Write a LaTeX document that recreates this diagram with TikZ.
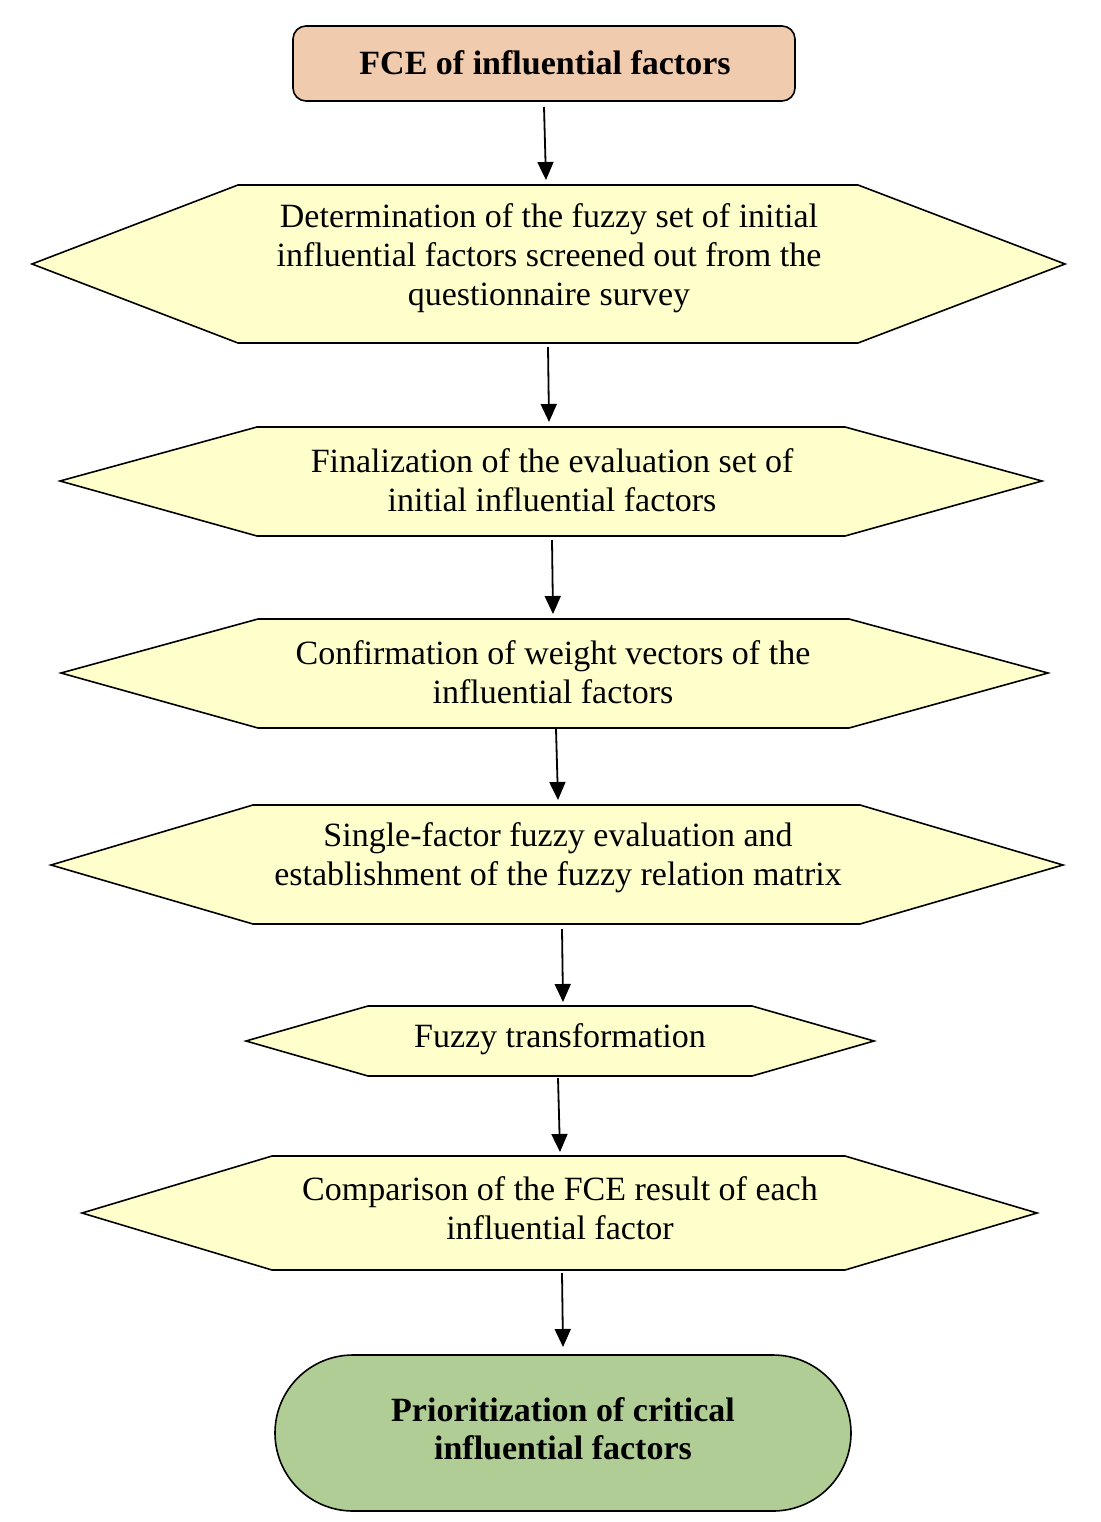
\documentclass[tikz,border=0pt]{standalone}
\usepackage{fontspec}
\setmainfont{Liberation Serif}
\usetikzlibrary{arrows.meta}
\definecolor{peach}{HTML}{F1CBAE}
\definecolor{paleyellow}{HTML}{FFFFCC}
\definecolor{sage}{HTML}{B0CD95}
\begin{document}
\begin{tikzpicture}[x=1pt,y=-1pt,
  hexbox/.style={draw=black,line width=1.6pt,fill=paleyellow,line join=miter},
  lbl/.style={align=center,inner sep=0pt,font=\fontsize{34}{39}\selectfont},
  boldlbl/.style={align=center,inner sep=0pt,font=\fontsize{34}{38}\selectfont\bfseries},
  flow/.style={line width=1.8pt,-{Triangle[length=18pt,width=16pt]}}]
\useasboundingbox (0,0) rectangle (1100,1522);
% start box
\draw[line width=1.6pt,fill=peach,rounded corners=13pt] (293,26) rectangle (795,101);
\node[boldlbl] (start) at (545,63) {FCE of influential factors};
% hexagon 1
\draw[hexbox] (32,264) -- (238,185) -- (858,185) -- (1065,264) -- (858,343) -- (238,343) -- cycle;
\node[lbl] (h1) at (549,258) {Determination of the fuzzy set of initial\\influential factors screened out from the\\questionnaire survey};
% hexagon 2
\draw[hexbox] (60,481) -- (257,427) -- (845,427) -- (1042,481) -- (845,536) -- (257,536) -- cycle;
\node[lbl] (h2) at (552,480) {Finalization of the evaluation set of\\initial influential factors};
% hexagon 3
\draw[hexbox] (61,673) -- (258,619) -- (849,619) -- (1048,673) -- (849,728) -- (258,728) -- cycle;
\node[lbl] (h3) at (553,672) {Confirmation of weight vectors of the\\influential factors};
% hexagon 4
\draw[hexbox] (51,865) -- (253,805) -- (860,805) -- (1063,865) -- (860,924) -- (253,924) -- cycle;
\node[lbl] (h4) at (558,858) {Single-factor fuzzy evaluation and\\establishment of the fuzzy relation matrix};
% hexagon 5
\draw[hexbox] (246,1041) -- (368,1006) -- (752,1006) -- (874,1041) -- (752,1076) -- (368,1076) -- cycle;
\node[lbl] (h5) at (560,1039) {Fuzzy transformation};
% hexagon 6
\draw[hexbox] (82,1213) -- (272,1156) -- (845,1156) -- (1037,1213) -- (845,1270) -- (272,1270) -- cycle;
\node[lbl] (h6) at (560,1208) {Comparison of the FCE result of each\\influential factor};
% end stadium
\draw[line width=1.6pt,fill=sage,rounded corners=78pt] (275,1355) rectangle (851,1511);
\node[boldlbl] (finish) at (563,1429) {Prioritization of critical\\influential factors};
% arrow end points
\coordinate (s0) at (544,107); \coordinate (e0) at (546,180);
\coordinate (s1) at (548,347); \coordinate (e1) at (549,422);
\coordinate (s2) at (552,540); \coordinate (e2) at (553,614);
\coordinate (s3) at (556,729); \coordinate (e3) at (558,800);
\coordinate (s4) at (562,929); \coordinate (e4) at (563,1002);
\coordinate (s5) at (558,1078); \coordinate (e5) at (560,1152);
\coordinate (s6) at (562,1273); \coordinate (e6) at (563,1347);
\draw[flow] (s0) -- (e0);
\draw[flow] (s1) -- (e1);
\draw[flow] (s2) -- (e2);
\draw[flow] (s3) -- (e3);
\draw[flow] (s4) -- (e4);
\draw[flow] (s5) -- (e5);
\draw[flow] (s6) -- (e6);
\end{tikzpicture}
\end{document}
